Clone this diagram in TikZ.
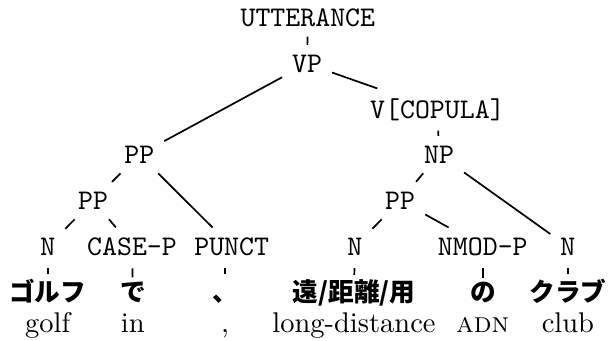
\documentclass[tikz,border=0pt]{standalone}
\usepackage{fontspec}
\newfontfamily\jpfont{Noto Sans CJK JP}
\usetikzlibrary{positioning}

\tikzset{
    cat/.style={font=\ttfamily,anchor=base},
    word/.style={font=\jpfont\bfseries\small,anchor=base},
    gloss/.style={anchor=base},
    branch/.style={semithick},
    leafbar/.style={semithick,shorten <=1pt,shorten >=-2pt},
}

\begin{document}
\begin{tikzpicture}
                \useasboundingbox (0,0) rectangle (7.53,4.2);
                % phrase labels
                \node[cat] (utt) at (3.80,3.875) {UTTERANCE};
                \node[cat] (vp) at (3.79,3.307) {VP};
                \node[cat] (vcop) at (5.40,2.740) {V[COPULA]};
                \node[cat] (ppa) at (1.72,2.184) {PP};
                \node[cat] (np) at (5.42,2.184) {NP};
                \node[cat] (ppb) at (1.15,1.617) {PP};
                \node[cat] (ppc) at (4.94,1.617) {PP};
                % pre-terminals
                \node[cat] (n1) at (0.59,1.049) {N};
                \node[cat] (casep) at (1.63,1.049) {CASE-P};
                \node[cat] (punct) at (2.86,1.049) {PUNCT};
                \node[cat] (n2) at (4.38,1.049) {N};
                \node[cat] (nmodp) at (5.96,1.049) {NMOD-P};
                \node[cat] (n3) at (7.01,1.049) {N};
                % words
                \node[word] (golf) at (0.59,0.481) {ゴルフ};
                \node[word] (de) at (1.64,0.481) {で};
                \node[word] (ten) at (2.78,0.481) {、};
                \node[word] (enkyori) at (4.37,0.481) {遠/距離/用};
                \node[word] (no) at (5.96,0.481) {の};
                \node[word] (kurabu) at (7.01,0.481) {クラブ};
                % glosses
                \node[gloss] (golfg) at (0.59,0.099) {golf};
                \node[gloss] (deg) at (1.64,0.099) {in};
                \node[gloss] (teng) at (2.78,0.099) {,};
                \node[gloss] (enkyorig) at (4.37,0.099) {long-distance};
                \node[gloss] (nog) at (5.96,0.099) {\textsc{adn}};
                \node[gloss] (kurabug) at (7.01,0.099) {club};

                \draw[branch] (utt) -- (vp);
                \draw[branch] (vp) -- (ppa);
                \draw[branch] (vp) -- (vcop);
                \draw[branch] (vcop) -- (np);
                \draw[branch] (ppa) -- (ppb);
                \draw[branch] (ppa) -- (punct);
                \draw[branch] (ppb) -- (n1);
                \draw[branch] (ppb) -- (casep);
                \draw[branch] (np) -- (ppc);
                \draw[branch] (np) -- (n3);
                \draw[branch] (ppc) -- (n2);
                \draw[branch] (ppc) -- (nmodp);

                \draw[leafbar] (n1) -- (golf);
                \draw[leafbar] (casep) -- (de);
                \draw[leafbar] (punct.south -| ten) -- (golf.north -| ten);
                \draw[leafbar] (n2) -- (enkyori);
                \draw[leafbar] (nmodp) -- (no);
                \draw[leafbar] (n3) -- (kurabu);
\end{tikzpicture}
\end{document}
